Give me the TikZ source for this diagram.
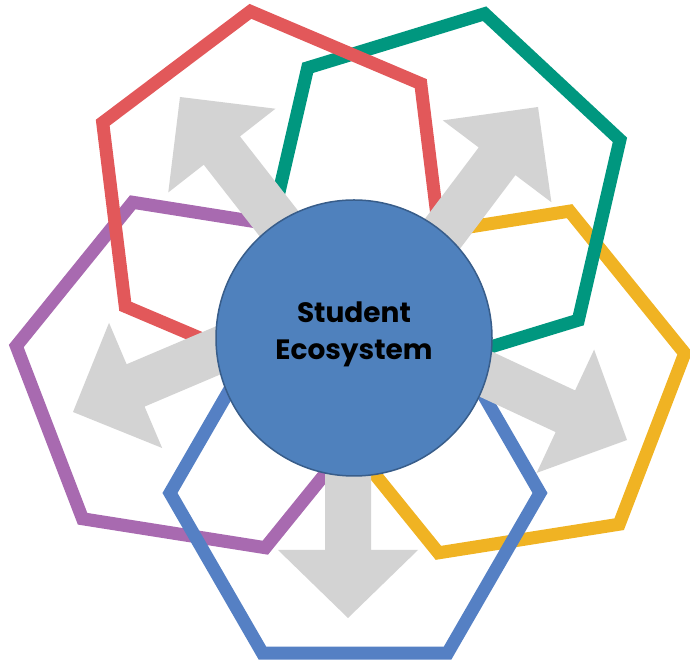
\documentclass[tikz,border=0pt]{standalone}
\usepackage{fontspec}
\setmainfont{Poppins}
\definecolor{ecored}{HTML}{E2585A}
\definecolor{ecoteal}{HTML}{00977F}
\definecolor{ecoyellow}{HTML}{F0B323}
\definecolor{ecoblue}{HTML}{5580C4}
\definecolor{ecopurple}{HTML}{A86AB0}
\definecolor{corefill}{HTML}{4F81BD}
\definecolor{coreline}{HTML}{385D8A}
\definecolor{arrowgray}{HTML}{D3D3D3}
\tikzset{
    hexline/.style={line width=13pt,draw=#1},
    fatarrow/.style={fill=arrowgray},
    core/.style={circle,minimum size=276pt,fill=corefill,draw=coreline,line width=1.5pt,
        align=center,font=\fontsize{28}{37}\selectfont\bfseries,text=black}
}
\begin{document}
\begin{tikzpicture}[x=1pt,y=1pt]
        \useasboundingbox (0,0) rectangle (690,666);

        \begin{scope}[shift={(199,291)},rotate=51]
            \draw[hexline=ecopurple] (0:185) -- (60:185) -- (120:185) -- (180:185) -- (240:185) -- (300:185) -- cycle;
        \end{scope}
        \begin{scope}[shift={(504,284)},rotate=9]
            \draw[hexline=ecoyellow] (0:183) -- (60:183) -- (120:183) -- (180:183) -- (240:183) -- (300:183) -- cycle;
        \end{scope}
        \begin{scope}[shift={(443,472)},rotate=17]
            \draw[hexline=ecoteal] (0:185) -- (60:185) -- (120:185) -- (180:185) -- (240:185) -- (300:185) -- cycle;
        \end{scope}
        \begin{scope}[shift={(273,471)},rotate=37]
            \draw[hexline=ecored] (0:185) -- (60:185) -- (120:185) -- (180:185) -- (240:185) -- (300:185) -- cycle;
        \end{scope}
        \begin{scope}[shift={(355,173)}]
            \draw[hexline=ecoblue] (0:185) -- (60:185) -- (120:185) -- (180:185) -- (240:185) -- (300:185) -- cycle;
        \end{scope}

        % block arrows, tip at the origin of each scope
        \begin{scope}[shift={(180,569)},rotate=128]
            \fill[fatarrow] (0,0) -- (-68,68) -- (-68,23) -- (-290,23) -- (-290,-23) -- (-68,-23) -- (-68,-68) -- cycle;
        \end{scope}
        \begin{scope}[shift={(538,559)},rotate=53]
            \fill[fatarrow] (0,0) -- (-68,68) -- (-68,23) -- (-290,23) -- (-290,-23) -- (-68,-23) -- (-68,-68) -- cycle;
        \end{scope}
        \begin{scope}[shift={(73,254)},rotate=203]
            \fill[fatarrow] (0,0) -- (-68,68) -- (-68,23) -- (-290,23) -- (-290,-23) -- (-68,-23) -- (-68,-68) -- cycle;
        \end{scope}
        \begin{scope}[shift={(627,226)},rotate=-25]
            \fill[fatarrow] (0,0) -- (-68,68) -- (-68,23) -- (-290,23) -- (-290,-23) -- (-68,-23) -- (-68,-68) -- cycle;
        \end{scope}
        \begin{scope}[shift={(348,48)},rotate=-90]
            \fill[fatarrow] (0,0) -- (-68,70) -- (-68,23) -- (-290,23) -- (-290,-23) -- (-68,-23) -- (-68,-70) -- cycle;
        \end{scope}

        \node[core] (eco) at (354,328) {};
        \node[align=center,font=\fontsize{28}{37}\selectfont\bfseries] (ecotext) at (354,332) {Student\\Ecosystem};
    \end{tikzpicture}
\end{document}
